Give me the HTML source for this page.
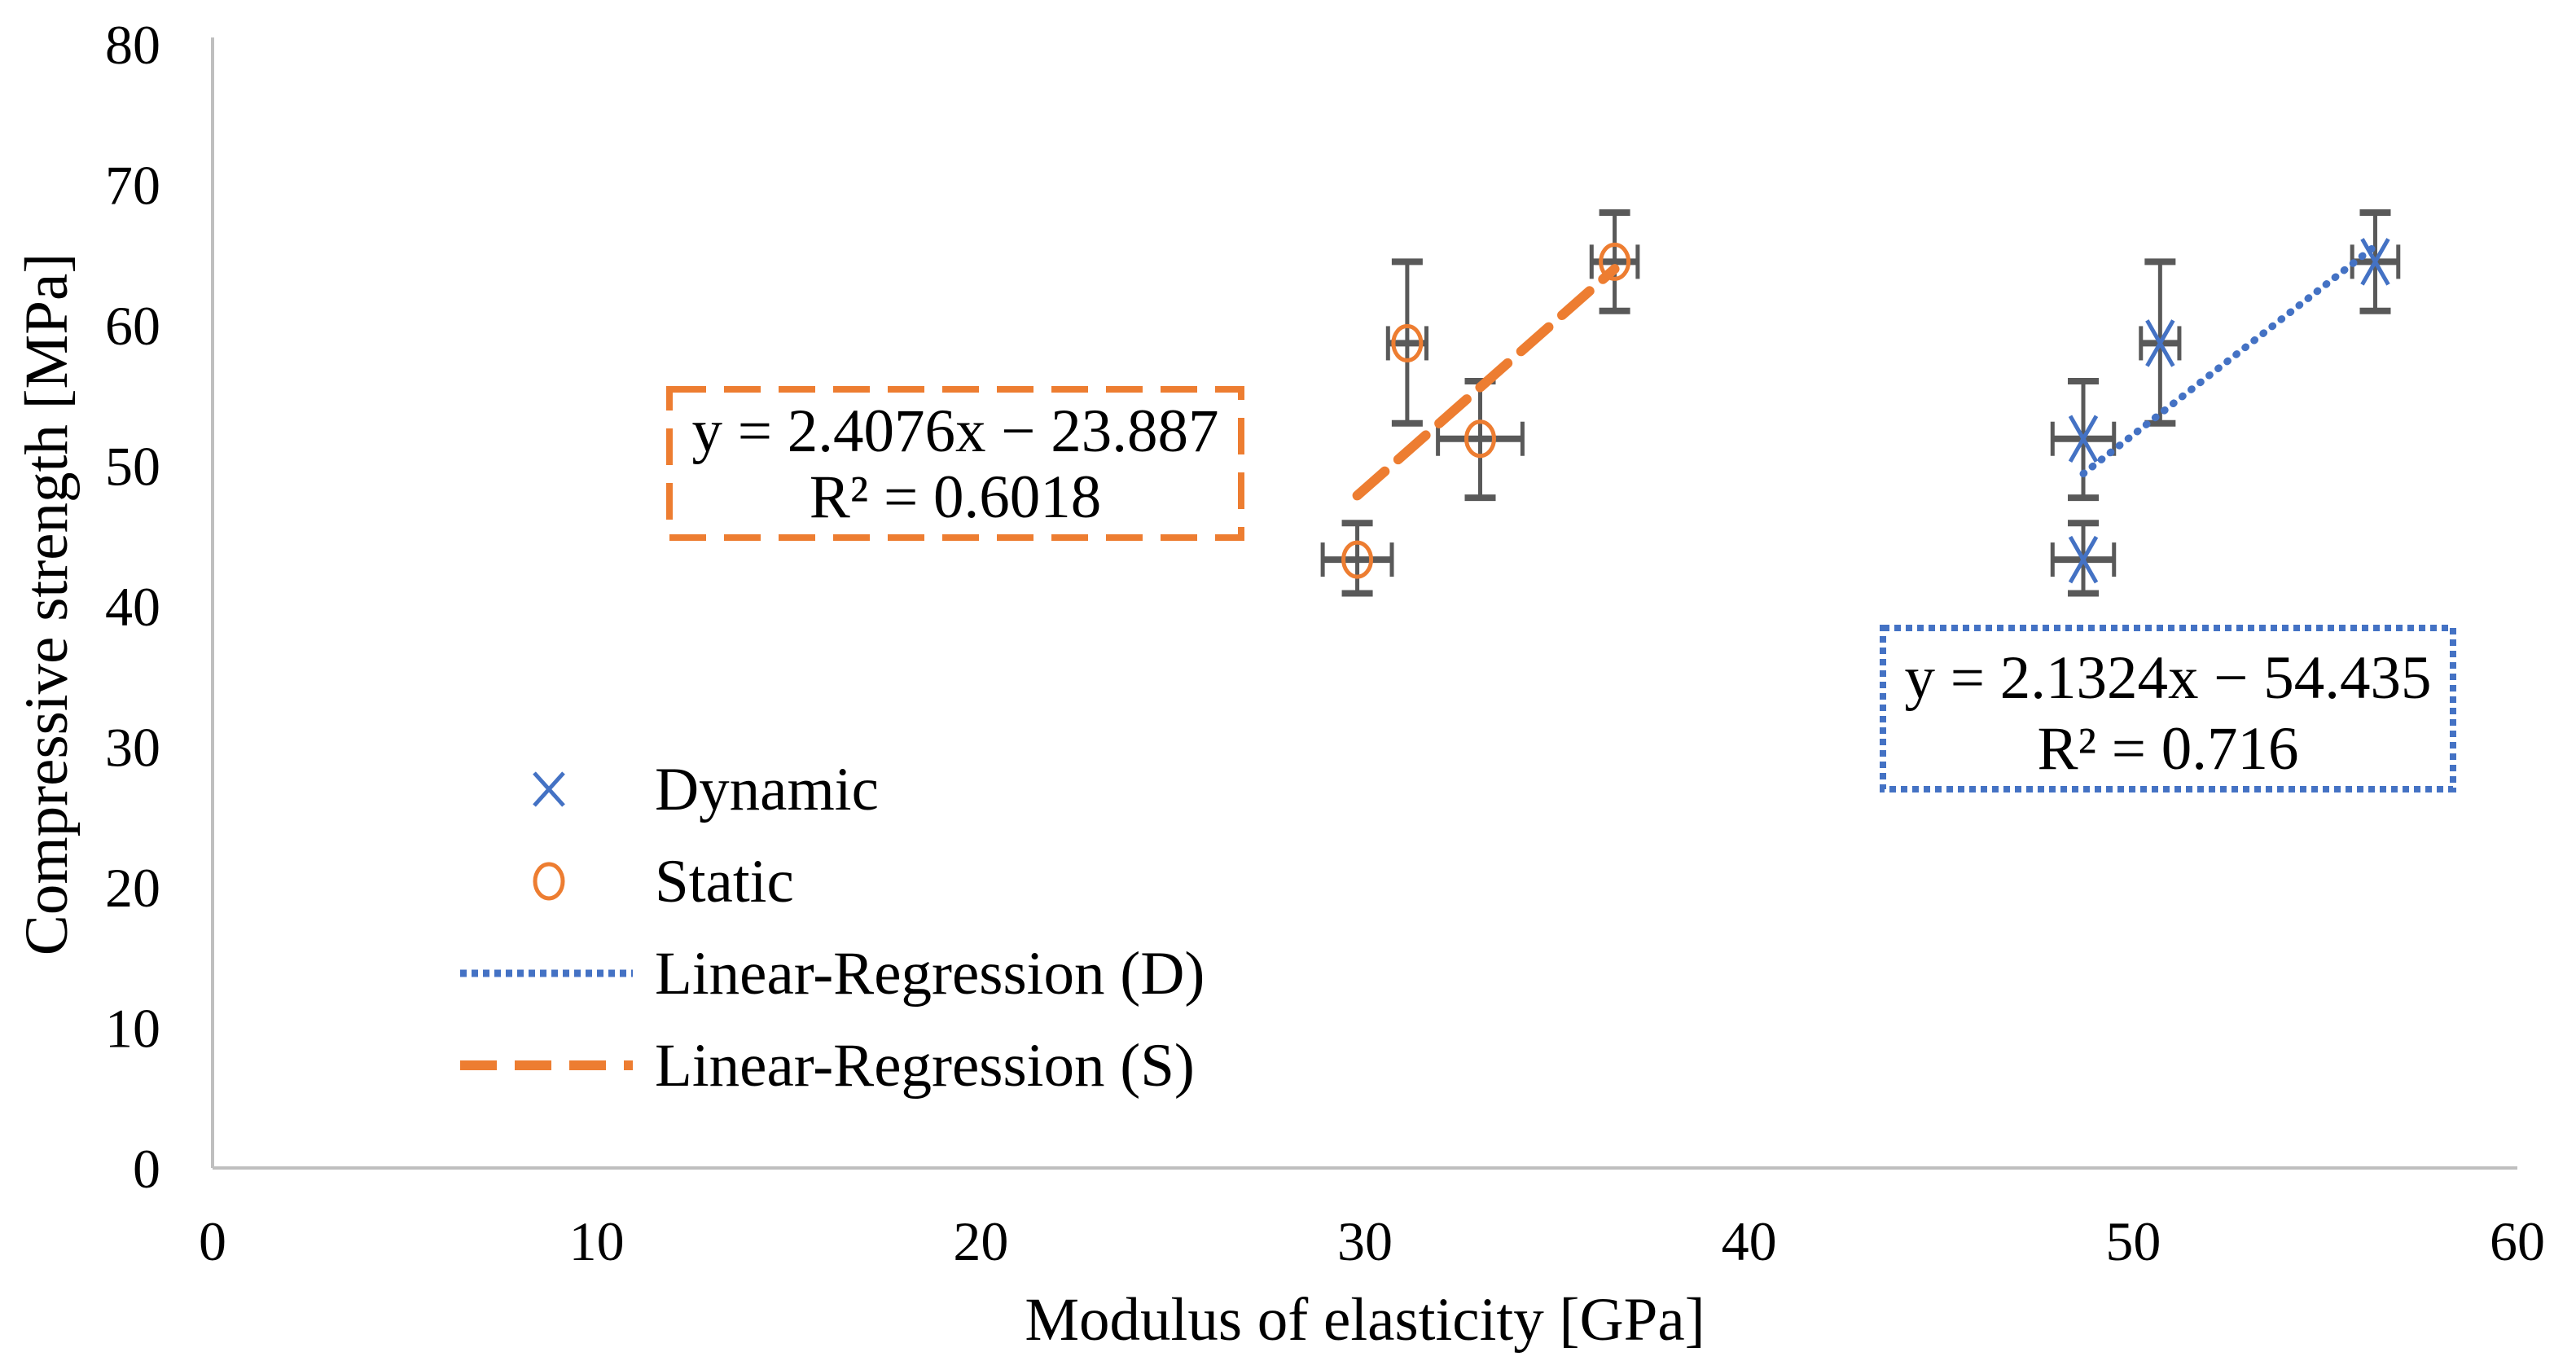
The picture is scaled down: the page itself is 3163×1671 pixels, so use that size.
<!DOCTYPE html>
<html><head><meta charset="utf-8"><style>
html,body{margin:0;padding:0;background:#fff;}
svg{display:block;font-family:"Liberation Serif",serif;}
</style></head><body>
<svg id="chart" width="3163" height="1671" viewBox="0 0 3163 1671" xmlns="http://www.w3.org/2000/svg">
<g id="axes"></g>
<g id="marks"></g>
<g>
<rect x="822" y="478" width="702" height="182" fill="none" stroke="#ed7d31" stroke-width="8" stroke-dasharray="45,22"/>
<text x="1173" y="554" font-size="75" text-anchor="middle" fill="#000">y = 2.4076x − 23.887</text>
<text x="1173" y="635" font-size="75" text-anchor="middle" fill="#000">R² = 0.6018</text>
</g>
<g>
<rect x="2312" y="771" width="700" height="198" fill="none" stroke="#4472c4" stroke-width="8" stroke-dasharray="8,6"/>
<text x="2662" y="857" font-size="75" text-anchor="middle" fill="#000">y = 2.1324x − 54.435</text>
<text x="2662" y="944" font-size="75" text-anchor="middle" fill="#000">R² = 0.716</text>
</g>
<g>
<g>
<path d="M656 949 L692 989 M692 949 L656 989" stroke="#4472c4" stroke-width="5"/>
<text x="804" y="994" font-size="75">Dynamic</text></g>
<g>
<ellipse cx="674" cy="1082" rx="17" ry="21" fill="none" stroke="#ed7d31" stroke-width="5"/>
<text x="804" y="1107" font-size="75">Static</text></g>
<g>
<line x1="565" y1="1195" x2="777" y2="1195" stroke="#4472c4" stroke-width="9" stroke-dasharray="8,6"/>
<text x="804" y="1220" font-size="75">Linear-Regression (D)</text></g>
<g>
<line x1="565" y1="1308" x2="777" y2="1308" stroke="#ed7d31" stroke-width="12" stroke-dasharray="45,22"/>
<text x="804" y="1333" font-size="75">Linear-Regression (S)</text></g>
</g>
<text x="1676" y="1645" font-size="75" text-anchor="middle">Modulus of elasticity [GPa]</text>
<text transform="translate(82,742) rotate(-90)" font-size="75" text-anchor="middle">Compressive strength [MPa]</text>
</svg>
<script>
const xTicks=[0,10,20,30,40,50,60];
const yTicks=[0,10,20,30,40,50,60,70,80];
const staticX=[29.8,31.1,33.0,36.5];
const staticY=[43.3,58.7,51.9,64.5];
const staticXErr=[0.9,0.5,1.1,0.6];
const staticYLo=[2.4,5.7,4.2,3.5];
const staticYHi=[2.6,5.8,4.1,3.5];
const dynX=[48.7,48.7,50.7,56.3];
const dynY=[43.3,51.9,58.7,64.5];
const dynXErr=[0.8,0.8,0.5,0.6];
const dynYLo=[2.4,4.2,5.7,3.5];
const dynYHi=[2.6,4.1,5.8,3.5];
const regS=[2.4076,-23.887];
const regD=[2.1324,-54.435];

const NS="http://www.w3.org/2000/svg";
const X0=261,X1=3091,Y0=1434,Y1=54;
const sx=v=>X0+(v-0)/60*(X1-X0);
const sy=v=>Y0-(v-0)/80*(Y0-Y1);
function mk(tag,attrs,parent){const e=document.createElementNS(NS,tag);for(const k in attrs)e.setAttribute(k,attrs[k]);parent.appendChild(e);return e;}
const axes=document.getElementById('axes'),marks=document.getElementById('marks');
let a=mk('line',{x1:X0,y1:Y1-8,x2:X0,y2:Y0,stroke:'#bfbfbf','stroke-width':4},axes);


a=mk('line',{x1:X0,y1:Y0,x2:X1,y2:Y0,stroke:'#bfbfbf','stroke-width':4},axes);


xTicks.forEach(t=>{const e=mk('text',{x:sx(t),y:1547,'font-size':68,'text-anchor':'middle'},axes);e.textContent=t;

});
yTicks.forEach(t=>{const e=mk('text',{x:197,y:sy(t)+24,'font-size':68,'text-anchor':'end'},axes);e.textContent=t;

});
function regLine(c,xs,color,w,dash,name){const xa=Math.min(...xs),xb=Math.max(...xs);
const l=mk('line',{x1:sx(xa),y1:sy(c[0]*xa+c[1]),x2:sx(xb),y2:sy(c[0]*xb+c[1]),stroke:color,'stroke-width':w,'stroke-dasharray':dash,'stroke-linecap':'round'},marks);

}
function errBars(xs,ys,xe,lo,hi){xs.forEach((x,i)=>{const g=mk('g',{stroke:'#595959','stroke-width':5,fill:'none'},marks);


const cx=sx(x),cy=sy(ys[i]),yl=sy(ys[i]-lo[i]),yh=sy(ys[i]+hi[i]),xl=sx(x-xe[i]),xh=sx(x+xe[i]);
mk('line',{x1:cx,y1:yl,x2:cx,y2:yh},g);mk('line',{x1:cx-19,y1:yl,x2:cx+19,y2:yl,'stroke-width':8},g);mk('line',{x1:cx-19,y1:yh,x2:cx+19,y2:yh,'stroke-width':8},g);
mk('line',{x1:xl,y1:cy,x2:xh,y2:cy,'stroke-width':8},g);mk('line',{x1:xl,y1:cy-21,x2:xl,y2:cy+21},g);mk('line',{x1:xh,y1:cy-21,x2:xh,y2:cy+21},g);});}
errBars(staticX,staticY,staticXErr,staticYLo,staticYHi);
errBars(dynX,dynY,dynXErr,dynYLo,dynYHi);
regLine(regS,staticX,'#ed7d31',12,'45,22','regression-line-static');
regLine(regD,dynX,'#4472c4',9,'1,13','regression-line-dynamic');
staticX.forEach((x,i)=>{const e=mk('ellipse',{cx:sx(x),cy:sy(staticY[i]),rx:17,ry:21,fill:'none',stroke:'#ed7d31','stroke-width':5},marks);

});
dynX.forEach((x,i)=>{const cx=sx(x),cy=sy(dynY[i]);const e=mk('path',{d:`M${cx-16} ${cy-28} L${cx+16} ${cy+28} M${cx+16} ${cy-28} L${cx-16} ${cy+28}`,stroke:'#4472c4','stroke-width':5},marks);

});
</script>
</body></html>
